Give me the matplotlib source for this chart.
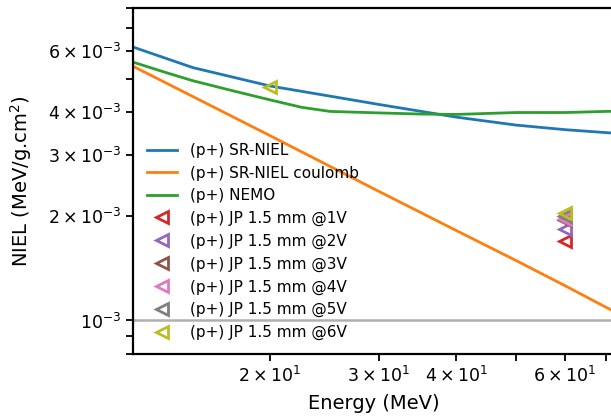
import numpy as np
import matplotlib
matplotlib.use("Agg")
import matplotlib.pyplot as plt


# courbes NIEL proton
E_sr = [12, 15, 20, 25, 30, 40, 50, 60, 70, 80]
niel_sr = [6.17e-3, 5.38e-3, 4.76e-3, 4.45e-3, 4.21e-3, 3.87e-3, 3.67e-3, 3.56e-3, 3.49e-3, 3.43e-3]

E_coul = [12, 20, 30, 40, 50, 60, 70, 80]
niel_coul = [5.43e-3, 3.42e-3, 2.36e-3, 1.82e-3, 1.49e-3, 1.26e-3, 1.09e-3, 0.974e-3]

E_nemo = [12, 13.5, 15, 17.5, 20, 22.5, 25, 30, 35, 40, 50, 60, 70, 80]
niel_nemo = [5.58e-3, 5.22e-3, 4.93e-3, 4.60e-3, 4.34e-3, 4.13e-3, 4.02e-3, 3.98e-3, 3.95e-3, 3.94e-3,
             3.99e-3, 3.99e-3, 4.02e-3, 4.04e-3]

# mesures JP 1.5 mm
jp_labels = ["(p+) JP 1.5 mm @1V", "(p+) JP 1.5 mm @2V", "(p+) JP 1.5 mm @3V",
             "(p+) JP 1.5 mm @4V", "(p+) JP 1.5 mm @5V", "(p+) JP 1.5 mm @6V"]
jp_colors = ["tab:red", "tab:purple", "tab:brown", "tab:pink", "tab:gray", "tab:olive"]
jp_E = [[60], [60], [60], [60], [60], [20, 60]]
jp_niel = [[1.70e-3], [1.84e-3], [1.95e-3], [1.97e-3], [2.00e-3], [4.73e-3, 2.04e-3]]

ref_level = 1e-3


fig = plt.figure(figsize=(6.11, 4.17), dpi=100)
# axe coupe a droite comme sur l'original
ax = fig.add_axes([133 / 611, 63 / 417, 481 / 611, 346 / 417])

ax.plot(E_sr, niel_sr, color="tab:blue", lw=2, label="(p+) SR-NIEL")
ax.plot(E_coul, niel_coul, color="tab:orange", lw=2, label="(p+) SR-NIEL coulomb")
ax.plot(E_nemo, niel_nemo, color="tab:green", lw=2, label="(p+) NEMO")

for lab, c, e, n in zip(jp_labels, jp_colors, jp_E, jp_niel):
    ax.plot(e, n, linestyle="none", marker="<", markersize=9, markeredgewidth=2,
            markerfacecolor="none", markeredgecolor=c, label=lab)

ax.axhline(ref_level, color="#b0b0b0", lw=1.8)

ax.set_xscale("log")
ax.set_yscale("log")
ax.set_xlim(12, 72)
ax.set_ylim(8e-4, 8e-3)

ax.set_xlabel("Energy (MeV)", fontsize=14, labelpad=6)
ax.set_ylabel("NIEL (MeV/g.cm$^2$)", fontsize=14, labelpad=10)
ax.tick_params(which="both", labelsize=12.5, width=1.3)
ax.tick_params(which="major", length=5)
ax.tick_params(which="minor", length=5)
for s in ax.spines.values():
    s.set_linewidth(1.6)

ax.legend(loc="lower left", frameon=False, fontsize=11)

fig.savefig("out.png", dpi=100)
